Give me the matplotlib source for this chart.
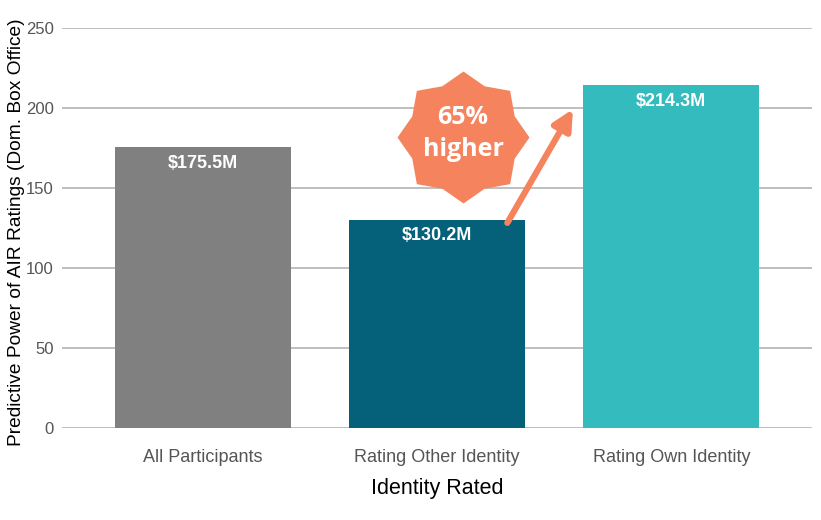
import matplotlib.pyplot as plt
import numpy as np
from matplotlib.path import Path

groups = ["All Participants", "Rating Other Identity", "Rating Own Identity"]
values = [175.5, 130.2, 214.3]
labels = ["$175.5M", "$130.2M", "$214.3M"]
colors = ["#808080", "#05607A", "#33BBBE"]
yticks = [0, 50, 100, 150, 200, 250]
badge_text = "65%\nhigher"

plt.rcParams['font.family'] = ['Liberation Sans', 'DejaVu Sans']

fig = plt.figure(figsize=(8.21, 5.2), dpi=100)
ax = fig.add_axes([62 / 821, 1 - 428 / 520, 750 / 821, 400 / 520])

x = np.arange(len(groups))
ax.bar(x, values, width=0.75, color=colors, zorder=2)
for xi, v, lab in zip(x, values, labels):
    ax.text(xi, v - 10, lab, ha='center', va='center', color='white',
            fontsize=13, fontweight='bold', zorder=3)

ax.set_xlim(-0.6, 2.6)
ax.set_ylim(0, 250)
ax.set_yticks(yticks)
ax.set_xticks(x)
ax.set_xticklabels(groups)
ax.grid(axis='y', color='#b3b3b3', linewidth=1.2, zorder=0)
ax.tick_params(axis='both', length=0, labelcolor='#555555')
ax.tick_params(axis='x', pad=15, labelsize=13)
ax.tick_params(axis='y', pad=6, labelsize=12)
for s in ax.spines.values():
    s.set_visible(False)
ax.set_ylabel("Predictive Power of AIR Ratings (Dom. Box Office)", fontsize=13.8)
ax.yaxis.set_label_coords(-0.049, 0.49)
ax.set_xlabel("Identity Rated", fontsize=15.5, labelpad=9)

# 8-point starburst badge
ang = np.deg2rad(90 + np.arange(16) * 22.5)
rad = np.where(np.arange(16) % 2 == 0, 1.0, 0.84)
verts = np.column_stack([rad * np.cos(ang), rad * np.sin(ang)])
verts = np.vstack([verts, verts[:1]])
star = Path(verts, closed=True)
bx, by = 1.111, 181.6
ax.plot([bx], [by], marker=star, markersize=95, color='#F5845E',
        markeredgewidth=0, zorder=4, clip_on=False)
ax.text(bx, by + 2.5, badge_text, ha='center', va='center', color='white',
        fontsize=18, fontweight='bold', family=['Open Sans', 'DejaVu Sans'],
        linespacing=1.35, zorder=5)

# arrow from the middle bar toward the tallest bar
ax.annotate("", xy=(1.58, values[2] - 15), xytext=(1.3, values[1] - 2),
            arrowprops=dict(arrowstyle='-|>', color='#F5845E', lw=4.5,
                            mutation_scale=30, shrinkA=0, shrinkB=0),
            zorder=4)

fig.savefig("out.png", dpi=100)
